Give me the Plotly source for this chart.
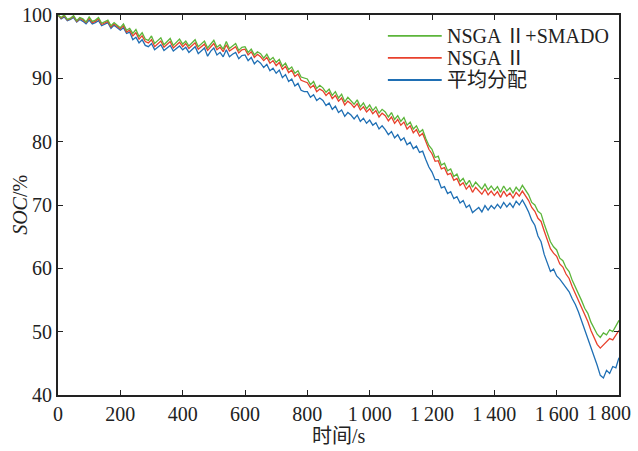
import plotly.graph_objects as go

time_s = list(range(0, 1801, 10))

soc_smado = [
    100.0, 99.6, 100.0, 99.3, 99.5, 99.9, 99.1, 99.6, 99.4, 98.9,
    99.7, 99.0, 99.2, 99.6, 98.7, 98.9, 99.2, 98.3, 98.8, 98.4,
    98.0, 98.6, 97.6, 97.9, 97.1, 97.7, 96.6, 97.2, 96.2, 96.0,
    96.7, 95.5, 95.9, 96.4, 95.3, 95.8, 96.3, 95.2, 95.7, 96.2,
    95.4, 95.9, 95.1, 95.6, 96.1, 95.0, 95.4, 95.9, 94.8, 95.5,
    96.0, 94.9, 95.3, 94.6, 95.8, 94.7, 95.1, 95.5, 94.4, 94.9,
    95.0, 94.1, 94.6, 93.7, 94.2, 93.9, 93.2, 93.8, 92.9, 93.3,
    92.5, 93.0, 91.9, 92.4, 91.4, 91.8, 90.8, 91.2, 90.2, 90.0,
    89.9, 89.0, 89.5, 88.4, 88.9, 88.5, 87.8, 88.3, 87.3, 87.9,
    86.9, 87.5, 86.3, 87.0, 86.5, 85.9, 86.6, 85.5, 86.1, 85.2,
    85.8, 84.9, 85.5, 84.5, 85.1, 84.7, 83.9, 84.6, 83.5, 84.1,
    83.2, 83.8, 82.6, 83.1, 82.0, 82.5, 81.5, 81.9, 80.5, 79.4,
    78.8, 77.5, 77.7, 76.3, 76.6, 75.4, 75.7, 74.5, 74.9, 73.7,
    74.2, 73.2, 73.9, 72.8, 73.6, 73.1, 72.5, 73.3, 72.4, 73.0,
    72.3, 72.9, 72.0, 73.0, 72.2, 72.7, 71.9, 72.8, 72.2, 73.1,
    72.4, 71.6, 70.4, 70.0, 69.0, 68.6, 67.0, 65.6, 64.2, 63.4,
    62.9, 61.6, 61.2, 60.1, 59.5, 58.1, 57.1, 55.9, 54.9, 53.7,
    52.9, 51.5, 50.6, 49.6, 49.1, 49.8, 49.5, 50.3, 50.0, 50.9,
    51.8,
]

soc_nsga = [
    100.0, 99.5, 99.9, 99.2, 99.4, 99.8, 99.0, 99.5, 99.2, 98.8,
    99.5, 98.8, 99.0, 99.4, 98.5, 98.7, 99.0, 98.1, 98.6, 98.2,
    97.8, 98.3, 97.3, 97.6, 96.7, 97.2, 96.2, 96.7, 95.8, 95.6,
    96.1, 95.0, 95.4, 95.9, 94.9, 95.4, 95.8, 94.8, 95.3, 95.7,
    95.0, 95.5, 94.7, 95.2, 95.6, 94.6, 95.0, 95.4, 94.4, 95.0,
    95.5, 94.5, 94.9, 94.2, 95.3, 94.3, 94.7, 95.0, 94.0, 94.5,
    94.6, 93.7, 94.2, 93.3, 93.8, 93.4, 92.8, 93.3, 92.4, 92.8,
    92.0, 92.5, 91.4, 91.9, 90.9, 91.3, 90.3, 90.7, 89.7, 89.5,
    89.3, 88.5, 88.9, 87.9, 88.3, 88.0, 87.3, 87.8, 86.8, 87.3,
    86.4, 86.9, 85.8, 86.4, 86.0, 85.4, 86.0, 85.0, 85.5, 84.7,
    85.2, 84.4, 84.9, 83.9, 84.5, 84.1, 83.3, 83.9, 82.9, 83.5,
    82.6, 83.1, 82.0, 82.5, 81.4, 81.9, 80.9, 81.3, 79.9, 78.8,
    78.1, 76.9, 77.0, 75.7, 75.9, 74.8, 75.0, 73.9, 74.2, 73.1,
    73.5, 72.5, 73.1, 72.0, 72.8, 72.3, 71.7, 72.5, 71.6, 72.2,
    71.5, 72.1, 71.2, 72.2, 71.4, 71.9, 71.1, 72.0, 71.4, 72.2,
    71.5, 70.7, 69.6, 69.0, 67.9, 67.4, 65.9, 64.6, 63.1, 62.4,
    61.9, 60.7, 60.2, 59.1, 58.4, 57.1, 56.0, 54.9, 53.6, 52.5,
    51.6, 50.2, 49.1, 48.0, 47.4, 47.9, 48.3, 48.9, 48.7, 49.5,
    50.2,
]

soc_avg = [
    100.0, 99.4, 99.7, 99.1, 99.3, 99.6, 98.9, 99.3, 99.0, 98.6,
    99.2, 98.6, 98.8, 99.1, 98.3, 98.5, 98.8, 97.9, 98.4, 98.0,
    97.6, 98.0, 97.1, 97.3, 96.1, 96.5, 95.6, 96.1, 95.2, 95.0,
    95.5, 94.5, 94.9, 95.3, 94.4, 94.8, 95.2, 94.3, 94.7, 95.1,
    94.5, 94.9, 94.1, 94.6, 95.0, 93.9, 94.3, 94.8, 93.5, 94.3,
    94.8, 93.7, 94.1, 93.4, 94.5, 93.4, 93.8, 94.1, 93.1, 93.6,
    93.7, 92.8, 93.3, 92.3, 92.8, 92.4, 91.7, 92.2, 91.2, 91.6,
    90.8, 91.3, 90.1, 90.6, 89.5, 89.9, 88.8, 89.2, 88.1, 87.9,
    87.9, 87.0, 87.4, 86.5, 86.9, 86.5, 85.7, 86.1, 85.1, 85.6,
    84.6, 85.0, 84.0, 84.6, 84.2, 83.6, 84.2, 83.2, 83.7, 82.9,
    83.4, 82.6, 83.0, 82.0, 82.5, 81.9, 81.1, 81.6, 80.6, 81.1,
    80.2, 80.6, 79.5, 79.9, 78.9, 79.3, 78.3, 78.5, 77.2, 76.0,
    75.2, 74.0, 74.0, 72.7, 72.9, 71.8, 72.1, 71.0, 71.3, 70.3,
    70.7, 69.6, 70.0, 68.8, 69.2, 69.6, 68.9, 69.9, 69.2, 69.9,
    69.4, 70.1, 69.5, 70.4, 69.7, 70.3, 69.6, 70.6, 70.0, 70.8,
    69.9, 68.9, 67.6, 66.8, 65.1, 64.2, 62.2, 60.8, 59.5, 59.9,
    58.8, 58.3, 57.6, 57.1, 56.3, 55.2, 54.3, 53.1, 51.7, 50.5,
    49.2, 47.6, 46.2, 44.7, 43.1, 42.7, 43.9, 43.4, 44.5, 44.3,
    45.9,
]

TS = "\u2009"
x_tickvals = [0, 200, 400, 600, 800, 1000, 1200, 1400, 1600, 1800]
x_ticktext = ["0", "200", "400", "600", "800", "1" + TS + "000", "1" + TS + "200",
              "1" + TS + "400", "1" + TS + "600", ""]
last_tick_label = "1" + TS + "800"
y_tickvals = [40, 50, 60, 70, 80, 90, 100]

names = ["NSGA Ⅱ+SMADO", "NSGA Ⅱ", "平均分配"]
colors = ["#5cb53a", "#e8412c", "#1f6fb4"]
series = [soc_smado, soc_nsga, soc_avg]

serif = "Liberation Serif, Times New Roman, Noto Sans CJK SC, serif"
axis_color = "#222222"
font_size = 20

fig = go.Figure()
# draw blue first, green last (green on top, as in the reference)
for name, color, ys in reversed(list(zip(names, colors, series))):
    fig.add_trace(go.Scatter(x=time_s, y=ys, mode="lines", name=name,
                             line=dict(color=color, width=1.3), showlegend=False))

axis_common = dict(
    showline=True, linecolor=axis_color, linewidth=2.2, mirror="ticks",
    ticks="inside", ticklen=5, tickcolor=axis_color, tickwidth=1,
    showgrid=False, zeroline=False, automargin=False,
    tickfont=dict(family=serif, size=font_size, color=axis_color),
)

# manual legend (line sample + label), placed in paper coordinates
legend_x0, legend_x1, legend_text_x = 0.588, 0.684, 0.690
legend_rows_y = [0.945, 0.887, 0.829]
shapes = []
annotations = []
for name, color, ly in zip(names, colors, legend_rows_y):
    shapes.append(dict(type="line", xref="paper", yref="paper",
                       x0=legend_x0, x1=legend_x1, y0=ly, y1=ly,
                       line=dict(color=color, width=1.8)))
    annotations.append(dict(xref="paper", yref="paper", x=legend_text_x, y=ly,
                            xanchor="left", yanchor="middle", showarrow=False,
                            text=name, font=dict(family=serif, size=font_size, color=axis_color)))

# last x tick label, shifted left so it stays inside the page as in the reference
annotations.append(dict(xref="paper", yref="paper", x=1.025, y=-0.012,
                        xanchor="right", yanchor="top", showarrow=False,
                        text=last_tick_label, font=dict(family=serif, size=font_size, color=axis_color)))
annotations.append(dict(xref="paper", yref="paper", x=0.5, y=-0.108,
                        xanchor="center", yanchor="middle", showarrow=False,
                        text="时间/s", font=dict(family=serif, size=font_size, color=axis_color)))
annotations.append(dict(xref="paper", yref="paper", x=-0.068, y=0.5,
                        xanchor="center", yanchor="middle", showarrow=False, textangle=-90,
                        text="<i>SOC</i>/%", font=dict(family=serif, size=font_size, color=axis_color)))

fig.update_layout(
    width=638, height=451,
    margin=dict(l=58, r=19, t=15, b=56),
    paper_bgcolor="white", plot_bgcolor="white",
    showlegend=False,
    xaxis=dict(range=[0, 1800], tickvals=x_tickvals, ticktext=x_ticktext, **axis_common),
    yaxis=dict(range=[40, 100], tickvals=y_tickvals, **axis_common),
    shapes=shapes,
    annotations=annotations,
)

fig.write_html("out.html")
